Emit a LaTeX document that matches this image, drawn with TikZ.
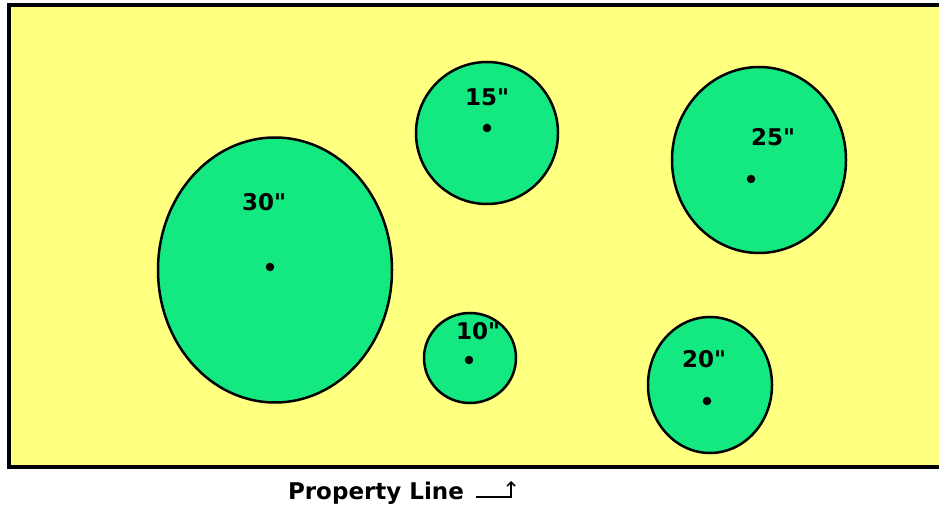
\documentclass[tikz,border=0pt]{standalone}
\usepackage{fontspec}
\setmainfont{DejaVu Sans}
\usetikzlibrary{shapes.geometric,arrows.meta}
\definecolor{lawn}{RGB}{255,255,128}
\definecolor{tree}{RGB}{20,232,128}
\begin{document}
\begin{tikzpicture}[x=1pt,y=-1pt,
  treeshape/.style={ellipse,draw=black,line width=2.5pt,fill=tree,inner sep=0pt},
  lbl/.style={font=\fontsize{23}{25}\selectfont\bfseries,inner sep=0pt},
  centerdot/.style={circle,fill=black,inner sep=0pt,minimum size=8.5pt}]
\useasboundingbox (0,0) rectangle (939,510);
\fill[white] (0,0) rectangle (939,510);
\fill[lawn] (9,5) rectangle (945,467);
\draw[line width=3.5pt] (945,5) -- (9,5) -- (9,467) -- (945,467);
% trees
\node[treeshape,minimum width=234pt,minimum height=265pt] (t30) at (275,270) {};
\node[treeshape,minimum width=142pt,minimum height=142pt] (t15) at (487,133) {};
\node[treeshape,minimum width=174pt,minimum height=186pt] (t25) at (759,160) {};
\node[treeshape,minimum width=92pt,minimum height=90pt] (t10) at (470,358) {};
\node[treeshape,minimum width=124pt,minimum height=136pt] (t20) at (710,385) {};
% centers
\node[centerdot] (d30) at (270,267) {};
\node[centerdot] (d15) at (487,128) {};
\node[centerdot] (d25) at (751,179) {};
\node[centerdot] (d10) at (469,360) {};
\node[centerdot] (d20) at (707,401) {};
% labels
\node[lbl] (l30) at (264,202) {30\textquotedbl};
\node[lbl] (l15) at (487,97) {15\textquotedbl};
\node[lbl] (l25) at (773,137) {25\textquotedbl};
\node[lbl] (l10) at (478,331) {10\textquotedbl};
\node[lbl] (l20) at (704,359) {20\textquotedbl};
% property line
\node[lbl] (pl) at (376,493) {Property Line};
\coordinate (a0) at (476,497);
\coordinate (a1) at (511,497);
\coordinate (a2) at (511,481);
\draw[line width=1.5pt,-{Straight Barb[length=4pt,width=8pt]}] (a0) -- (a1) -- (a2);
\end{tikzpicture}
\end{document}
